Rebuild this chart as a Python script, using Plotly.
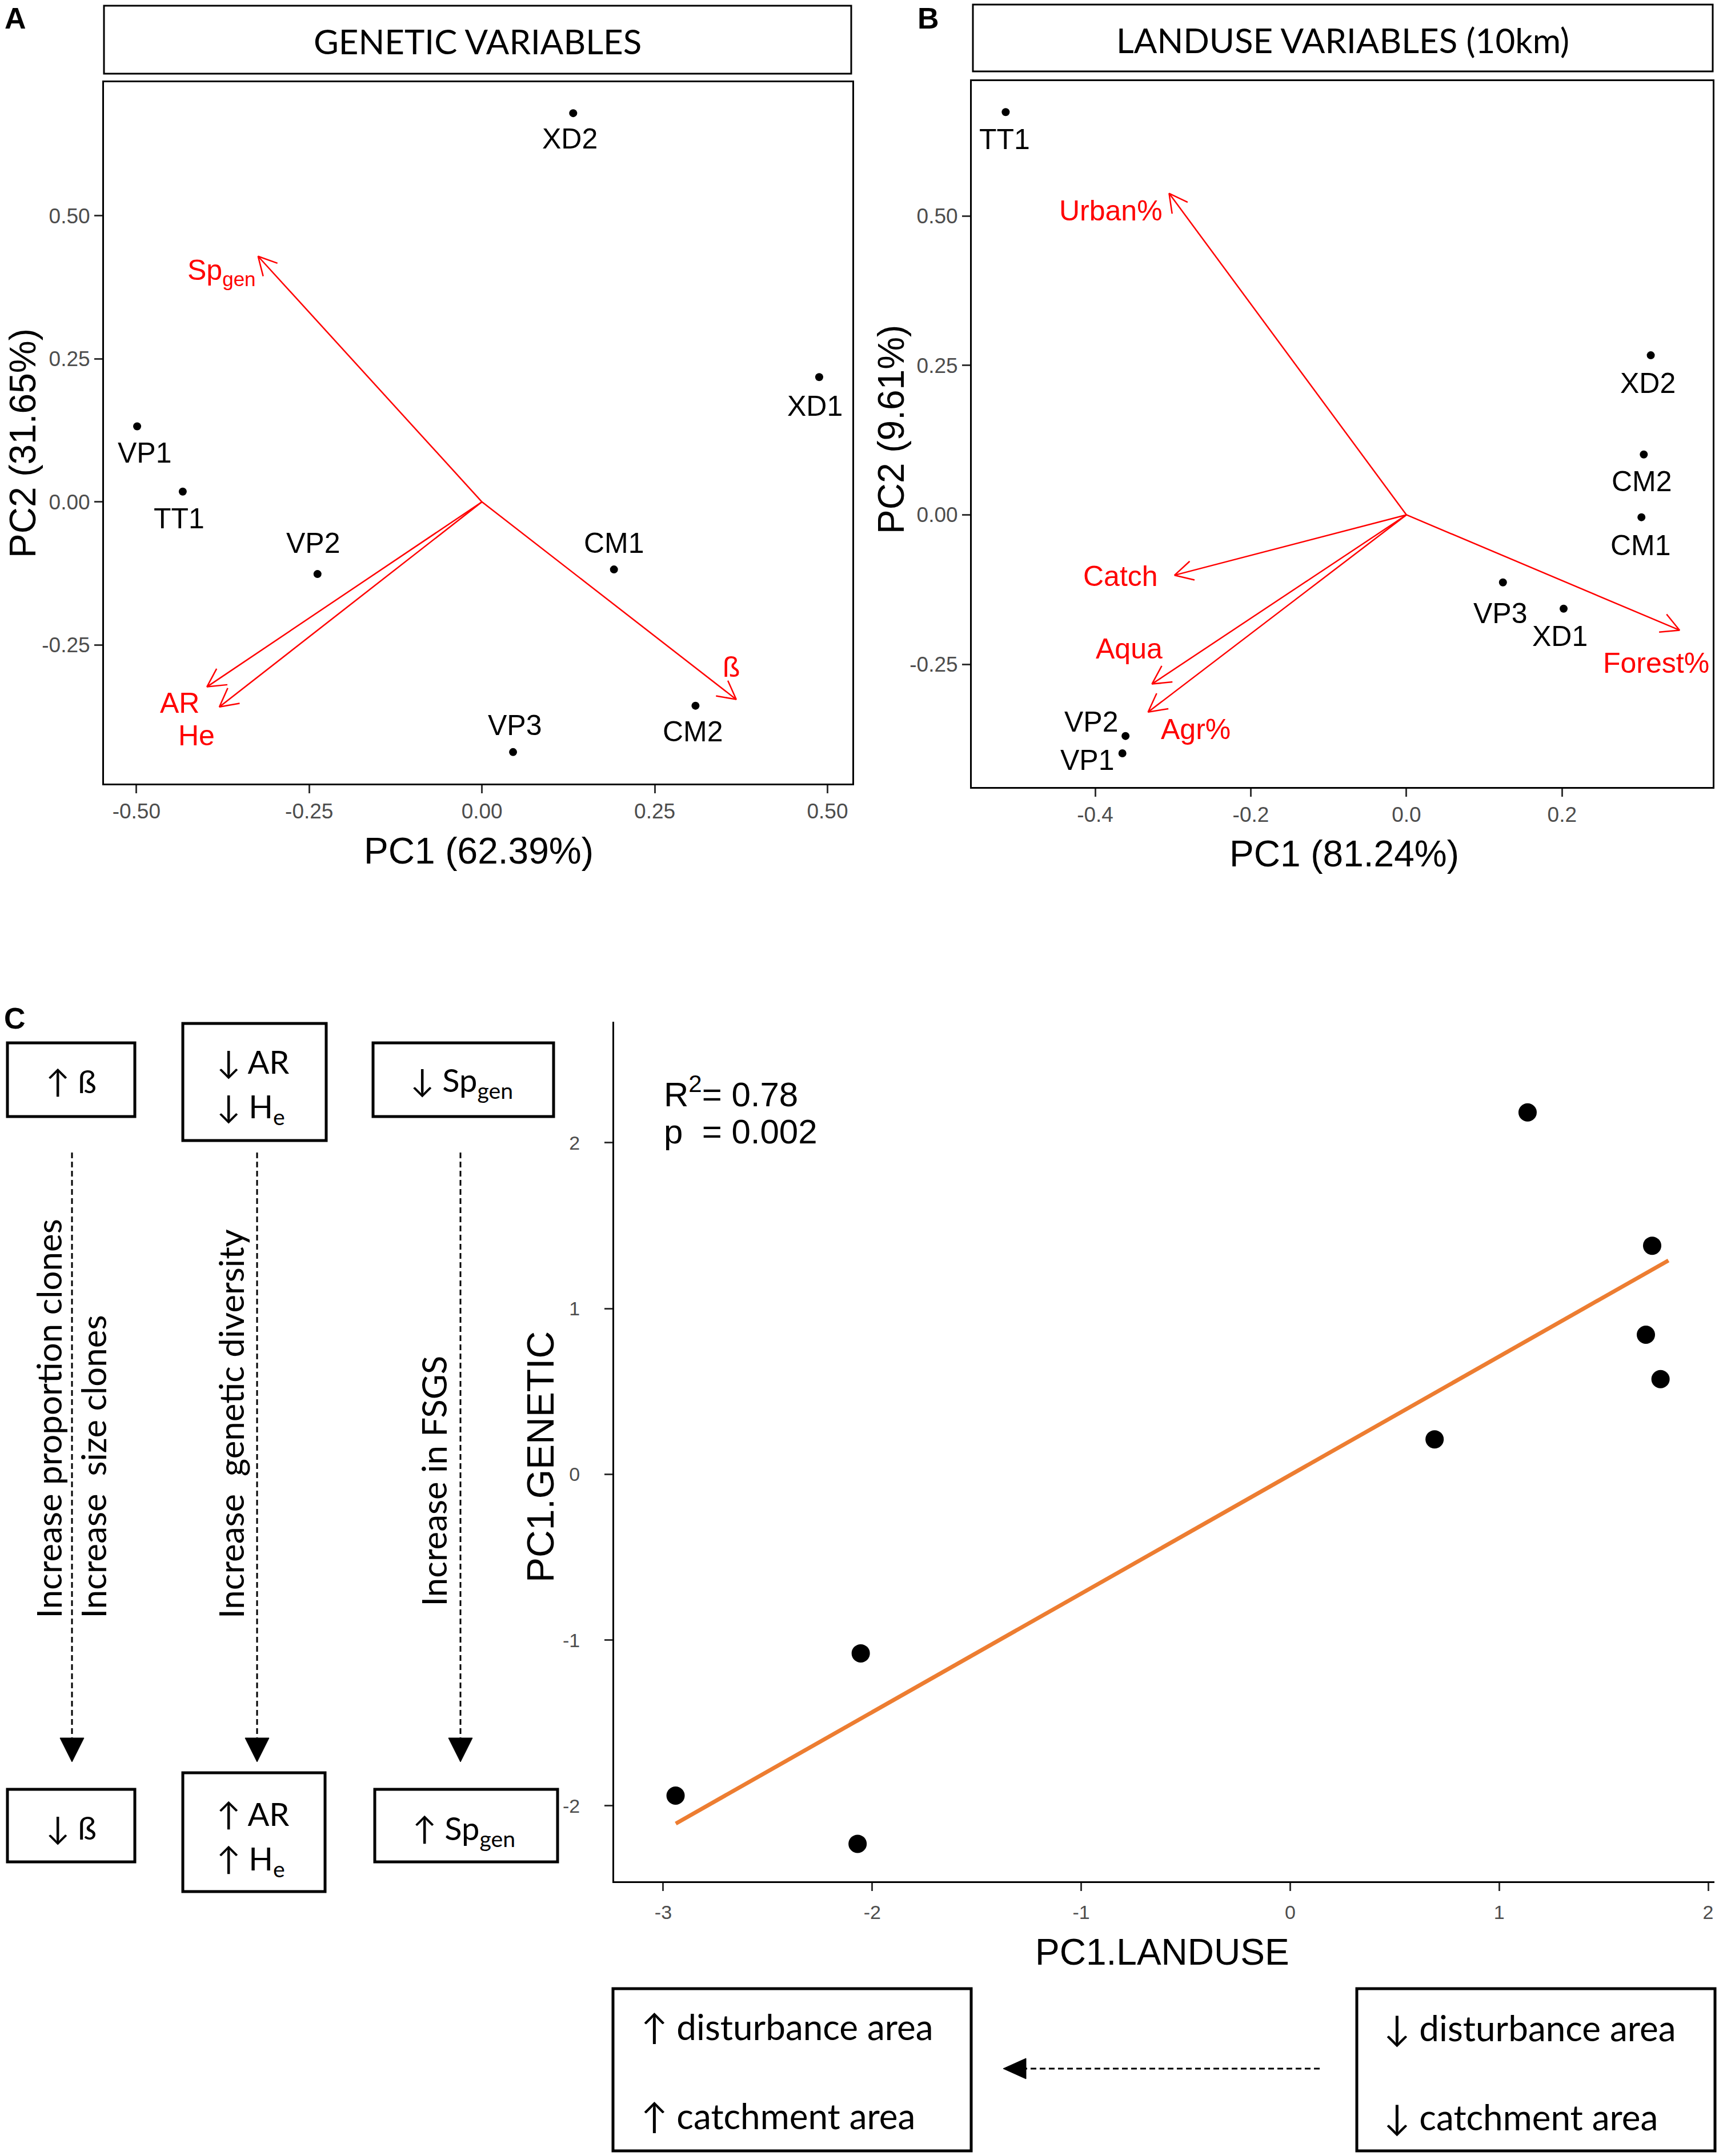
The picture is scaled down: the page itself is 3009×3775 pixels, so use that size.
import numpy as np
import plotly.graph_objects as go

W, H = 3009, 3775

# ---------------- DATA ----------------
# Panel A: PCA of genetic variables
sites_A = ["XD2", "XD1", "VP1", "TT1", "VP2", "CM1", "CM2", "VP3"]
pc1_A = [0.132, 0.488, -0.499, -0.433, -0.238, 0.191, 0.309, 0.045]
pc2_A = [0.679, 0.218, 0.132, 0.018, -0.126, -0.118, -0.356, -0.437]
vars_A = ["Sp<sub>gen</sub>", "AR", "He", "ß"]
load1_A = [-0.324, -0.398, -0.380, 0.368]
load2_A = [0.429, -0.323, -0.358, -0.345]

# Panel B: PCA of landuse variables (10km)
sites_B = ["TT1", "XD2", "CM2", "CM1", "VP3", "XD1", "VP2", "VP1"]
pc1_B = [-0.515, 0.314, 0.305, 0.302, 0.124, 0.202, -0.361, -0.365]
pc2_B = [0.674, 0.267, 0.101, -0.004, -0.113, -0.157, -0.370, -0.399]
vars_B = ["Urban%", "Catch", "Aqua", "Agr%", "Forest%"]
load1_B = [-0.305, -0.298, -0.327, -0.332, 0.351]
load2_B = [0.538, -0.101, -0.283, -0.330, -0.193]

# Panel C: regression PC1.GENETIC ~ PC1.LANDUSE
pc1_landuse = [1.136, 1.732, 1.702, 1.772, 0.691, -2.055, -2.941, -2.070]
pc1_genetic = [2.183, 1.379, 0.842, 0.574, 0.211, -1.080, -1.938, -2.229]
fit_x_span = [-2.94, 1.81]
r2_label = "0.78"
p_label = "0.002"

# Tick labels
ticks_A_x = [-0.5, -0.25, 0.0, 0.25, 0.5]
ticktext_A_x = ["-0.50", "-0.25", "0.00", "0.25", "0.50"]
ticks_A_y = [-0.25, 0.0, 0.25, 0.5]
ticktext_A_y = ["-0.25", "0.00", "0.25", "0.50"]
ticks_B_x = [-0.4, -0.2, 0.0, 0.2]
ticktext_B_x = ["-0.4", "-0.2", "0.0", "0.2"]
ticks_B_y = [-0.25, 0.0, 0.25, 0.5]
ticktext_B_y = ["-0.25", "0.00", "0.25", "0.50"]
ticks_C_x = [-3, -2, -1, 0, 1, 2]
ticktext_C_x = ["-3", "-2", "-1", "0", "1", "2"]
ticks_C_y = [-2, -1, 0, 1, 2]
ticktext_C_y = ["-2", "-1", "0", "1", "2"]

# ---------------- LAYOUT HELPERS ----------------
def fx(px):
    return px / W

def fy(py):
    return 1 - py / H

# pixel boxes: (left, right, top, bottom)
box_A = (182, 1492, 144, 1372)
box_B = (1701, 2998, 142, 1378)
box_C = (1075, 3001, 1789, 3294)
range_A = ([-0.547, 0.536], [-0.492, 0.733])
range_B = ([-0.5586, 0.3936], [-0.4554, 0.7258])
range_C = ([-3.235, 2.03], [-2.455, 2.73])

ARIAL = "Liberation Sans, Arial, sans-serif"
CAL = "Lato, Open Sans, sans-serif"
RED = "#FF0000"
GRAY = "#4D4D4D"

fig = go.Figure()


def scale(box, rng):
    sx = (box[1] - box[0]) / (rng[0][1] - rng[0][0])
    sy = (box[3] - box[2]) / (rng[1][1] - rng[1][0])
    return sx, sy


def arrows(l1, l2, box, rng, L=36, half=np.deg2rad(28)):
    sx, sy = scale(box, rng)
    xs, ys = [], []
    for x1, y1 in zip(l1, l2):
        xs += [0, x1, None]
        ys += [0, y1, None]
        th = np.arctan2(y1 * sy, x1 * sx)
        ha = th + np.pi + half
        hb = th + np.pi - half
        xs += [x1 + L * np.cos(ha) / sx, x1, x1 + L * np.cos(hb) / sx, None]
        ys += [y1 + L * np.sin(ha) / sy, y1, y1 + L * np.sin(hb) / sy, None]
    return xs, ys


# ---------- Panel A ----------
ax, ay = arrows(load1_A, load2_A, box_A, range_A)
fig.add_trace(go.Scatter(x=ax, y=ay, mode="lines", line=dict(color=RED, width=2.5),
                         xaxis="x", yaxis="y", hoverinfo="skip", showlegend=False))
fig.add_trace(go.Scatter(x=pc1_A, y=pc2_A, mode="markers", marker=dict(color="black", size=14),
                         xaxis="x", yaxis="y", showlegend=False))

# ---------- Panel B ----------
bx, by = arrows(load1_B, load2_B, box_B, range_B)
fig.add_trace(go.Scatter(x=bx, y=by, mode="lines", line=dict(color=RED, width=2.5),
                         xaxis="x2", yaxis="y2", hoverinfo="skip", showlegend=False))
fig.add_trace(go.Scatter(x=pc1_B, y=pc2_B, mode="markers", marker=dict(color="black", size=14),
                         xaxis="x2", yaxis="y2", showlegend=False))

# ---------- Panel C ----------
slope, intercept = np.polyfit(pc1_landuse, pc1_genetic, 1)
fit_y = [slope * v + intercept for v in fit_x_span]
fig.add_trace(go.Scatter(x=fit_x_span, y=fit_y, mode="lines", line=dict(color="#ED7D31", width=7),
                         xaxis="x3", yaxis="y3", showlegend=False))
fig.add_trace(go.Scatter(x=pc1_landuse, y=pc1_genetic, mode="markers",
                         marker=dict(color="black", size=32),
                         xaxis="x3", yaxis="y3", showlegend=False))

# ---------- Axes ----------
def box_axis(box, rng, tv, tt, horizontal, anchor, size=37, mirror=True, standoff=None):
    d = dict(
        domain=[fx(box[0]), fx(box[1])] if horizontal else [fy(box[3]), fy(box[2])],
        range=rng, anchor=anchor, showline=True, mirror=mirror, linecolor="black",
        linewidth=3, ticks="outside", ticklen=14, tickwidth=3, tickcolor="#333333",
        showgrid=False, zeroline=False, tickvals=tv, ticktext=tt,
        tickfont=dict(family=ARIAL, size=size, color=GRAY),
    )
    if standoff is not None:
        d["ticklabelstandoff"] = standoff
    return d

fig.update_layout(
    width=W, height=H, margin=dict(l=0, r=0, t=0, b=0),
    paper_bgcolor="white", plot_bgcolor="white", showlegend=False,
    xaxis=box_axis(box_A, range_A[0], ticks_A_x, ticktext_A_x, True, "y"),
    yaxis=box_axis(box_A, range_A[1], ticks_A_y, ticktext_A_y, False, "x"),
    xaxis2=box_axis(box_B, range_B[0], ticks_B_x, ticktext_B_x, True, "y2"),
    yaxis2=box_axis(box_B, range_B[1], ticks_B_y, ticktext_B_y, False, "x2"),
    xaxis3=box_axis(box_C, range_C[0], ticks_C_x, ticktext_C_x, True, "y3", size=34,
                    mirror=False, standoff=8),
    yaxis3=box_axis(box_C, range_C[1], ticks_C_y, ticktext_C_y, False, "x3", size=34,
                    mirror=False, standoff=36),
)

ann = []
shapes = []

# point labels (pixel offsets)
off_A = {"XD2": (-6, -45), "XD1": (-7, -51), "VP1": (13, -47), "TT1": (-6, -47),
         "VP2": (-7, 54), "CM1": (0, 46), "CM2": (-4, -45), "VP3": (3, 47)}
for s, x, y in zip(sites_A, pc1_A, pc2_A):
    dx, dy = off_A[s]
    ann.append(dict(x=x, y=y, xref="x", yref="y", text=s, showarrow=False, xshift=dx, yshift=dy,
                    font=dict(family=ARIAL, size=50, color="black")))

off_B = {"TT1": (-2, -48, "center"), "XD2": (-5, -49, "center"), "CM2": (-3, -47, "center"),
         "CM1": (-1, -49, "center"), "VP3": (-4, -54, "center"), "XD1": (-7, -48, "center"),
         "VP2": (-10, 25, "right"), "VP1": (-12, -12, "right")}
for s, x, y in zip(sites_B, pc1_B, pc2_B):
    dx, dy, xa = off_B[s]
    ann.append(dict(x=x, y=y, xref="x2", yref="y2", text=s, showarrow=False, xshift=dx, yshift=dy,
                    xanchor=xa, font=dict(family=ARIAL, size=50, color="black")))

# variable labels
voff_A = [(-2, -28, "right"), (-48, -28, "center"), (-40, -50, "center"), (-8, 57, "center")]
for v, x, y, (dx, dy, xa) in zip(vars_A, load1_A, load2_A, voff_A):
    ann.append(dict(x=x, y=y, xref="x", yref="y", text=v, showarrow=False, xshift=dx, yshift=dy,
                    xanchor=xa, font=dict(family=ARIAL, size=50, color=RED)))

voff_B = [(-9, -30, "right"), (-27, -2, "right"), (-40, 62, "center"), (83, -30, "center"),
          (-41, -58, "center")]
for v, x, y, (dx, dy, xa) in zip(vars_B, load1_B, load2_B, voff_B):
    ann.append(dict(x=x, y=y, xref="x2", yref="y2", text=v, showarrow=False, xshift=dx, yshift=dy,
                    xanchor=xa, font=dict(family=ARIAL, size=50, color=RED)))


def text(px, py, t, size, family=ARIAL, color="black", xanchor="center", yanchor="middle",
         angle=0, **kw):
    ann.append(dict(x=fx(px), y=fy(py), xref="paper", yref="paper", text=t, showarrow=False,
                    xanchor=xanchor, yanchor=yanchor, textangle=angle,
                    font=dict(family=family, size=size, color=color), **kw))


def rect(l, r, t, b, w=3):
    shapes.append(dict(type="rect", xref="paper", yref="paper", x0=fx(l), x1=fx(r),
                       y0=fy(b), y1=fy(t), line=dict(color="black", width=w),
                       fillcolor="rgba(0,0,0,0)"))


def tri(tipx, tipy, direction, size=40):
    h = size
    w2 = size / 2
    if direction == "down":
        pts = [(tipx, tipy), (tipx - w2, tipy - h), (tipx + w2, tipy - h)]
    else:  # left
        pts = [(tipx, tipy), (tipx + h, tipy - w2 * 0.9), (tipx + h, tipy + w2 * 0.9)]
    path = "M " + " L ".join(f"{fx(a):.6f},{fy(b):.6f}" for a, b in pts) + " Z"
    shapes.append(dict(type="path", xref="paper", yref="paper", path=path,
                       fillcolor="black", line=dict(color="black", width=1)))


def dline(x0, y0, x1, y1):
    shapes.append(dict(type="line", xref="paper", yref="paper", x0=fx(x0), y0=fy(y0),
                       x1=fx(x1), y1=fy(y1), line=dict(color="black", width=3, dash="10px,6px")))


# Panel letters
text(27, 32, "<b>A</b>", 52)
text(1625, 32, "<b>B</b>", 52)
text(26, 1783, "<b>C</b>", 52)

# Strip titles
rect(182, 1490, 10, 129)
text(836, 72, "GENETIC VARIABLES", 60, family=CAL)
rect(1703, 2998, 8, 125)
text(2350, 70, "LANDUSE VARIABLES (10km)", 60, family=CAL)

# Axis titles A/B
text(838, 1490, "PC1 (62.39%)", 64)
text(40, 776, "PC2 (31.65%)", 64, angle=-90)
text(2353, 1495, "PC1 (81.24%)", 64)
text(1560, 752, "PC2 (9.61%)", 64, angle=-90)

# Axis titles C
text(2034, 3418, "PC1.LANDUSE", 64)
text(946, 2551, "PC1.GENETIC", 66, angle=-90)

# R2 / p
text(1160, 1912, "R<sup>2</sup>= " + r2_label, 60, xanchor="left")
text(1160, 1982, "p&nbsp; = " + p_label, 60, xanchor="left")

# Left boxes (top)
rect(13, 236, 1826, 1955, w=5)
text(124, 1892, "↑ ß", 56, family=CAL)
rect(320, 571, 1792, 1997, w=5)
text(377, 1858, "↓ AR", 56, family=CAL, xanchor="left")
text(377, 1940, "↓ H<sub>e</sub>", 56, family=CAL, xanchor="left")
rect(653, 969, 1826, 1955, w=5)
text(808, 1895, "↓ Sp<sub>gen</sub>", 56, family=CAL)

# Left boxes (bottom)
rect(13, 236, 3133, 3260, w=5)
text(124, 3199, "↓ ß", 56, family=CAL)
rect(320, 569, 3104, 3312, w=5)
text(377, 3175, "↑ AR", 56, family=CAL, xanchor="left")
text(377, 3257, "↑ H<sub>e</sub>", 56, family=CAL, xanchor="left")
rect(656, 976, 3133, 3260, w=5)
text(812, 3204, "↑ Sp<sub>gen</sub>", 56, family=CAL)

# Vertical dashed arrows and their texts
for xa in (126, 450, 806):
    dline(xa, 2018, xa, 3050)
    tri(xa, 3085, "down", 42)

text(84, 2836, "Increase proportion clones", 60, family=CAL, angle=-90, yanchor="bottom")
text(162, 2836, "Increase&nbsp; size clones", 60, family=CAL, angle=-90, yanchor="bottom")
text(404, 2836, "Increase&nbsp; genetic diversity", 60, family=CAL, angle=-90, yanchor="bottom")
text(758, 2815, "Increase in FSGS", 60, family=CAL, angle=-90, yanchor="bottom")

# Bottom boxes
rect(1073, 1700, 3482, 3766, w=5)
text(1120, 3548, "↑ disturbance area", 62, family=CAL, xanchor="left")
text(1120, 3704, "↑ catchment area", 62, family=CAL, xanchor="left")
rect(2375, 3002, 3482, 3766, w=5)
text(2420, 3550, "↓ disturbance area", 62, family=CAL, xanchor="left")
text(2420, 3706, "↓ catchment area", 62, family=CAL, xanchor="left")
dline(2310, 3622, 1790, 3622)
tri(1756, 3622, "left", 40)

fig.update_layout(annotations=ann, shapes=shapes)
fig.write_html("out.html", config={"responsive": False, "displayModeBar": False},
               post_script="document.body.style.margin='0';document.body.style.overflow='hidden';")
